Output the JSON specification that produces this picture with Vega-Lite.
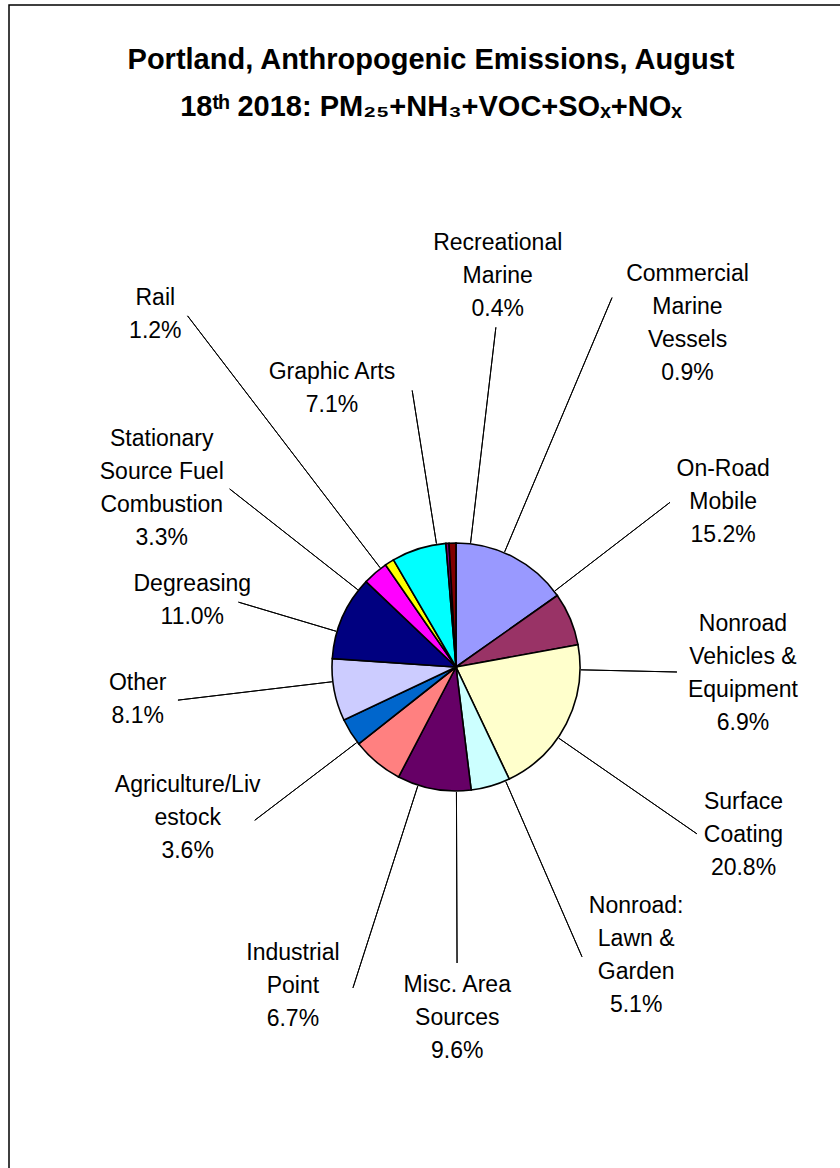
{
  "$schema": "https://vega.github.io/schema/vega-lite/v6.json",
  "autosize": "none",
  "padding": {"left": 9, "top": 5, "right": 0, "bottom": 0},
  "width": 894,
  "height": 1324,
  "background": "white",
  "view": {"stroke": "black", "strokeWidth": 1.5, "fill": "white"},
  "config": {
    "view": {"stroke": "black", "strokeWidth": 1.5},
    "text": {"font": "Liberation Sans", "fontSize": 23, "lineHeight": 33, "lineBreak": "\n", "align": "center", "baseline": "middle", "color": "black"}
  },
  "title": {
    "text": ["Portland, Anthropogenic Emissions, August", "18ᵗʰ 2018: PM₂₅+NH₃+VOC+SOₓ+NOₓ"],
    "font": "Liberation Sans",
    "fontSize": 29,
    "fontWeight": "bold",
    "lineHeight": 47,
    "anchor": "middle",
    "color": "black",
    "offset": 0,
    "dx": -25,
    "dy": 117
  },
  "data": {
    "values": [
      {"order": 1, "cat": "On-Road Mobile", "label": "On-Road\nMobile\n15.2%", "pct": 15.2},
      {"order": 2, "cat": "Nonroad Vehicles & Equipment", "label": "Nonroad\nVehicles &\nEquipment\n6.9%", "pct": 6.9},
      {"order": 3, "cat": "Surface Coating", "label": "Surface\nCoating\n20.8%", "pct": 20.8},
      {"order": 4, "cat": "Nonroad: Lawn & Garden", "label": "Nonroad:\nLawn &\nGarden\n5.1%", "pct": 5.1},
      {"order": 5, "cat": "Misc. Area Sources", "label": "Misc. Area\nSources\n9.6%", "pct": 9.6},
      {"order": 6, "cat": "Industrial Point", "label": "Industrial\nPoint\n6.7%", "pct": 6.7},
      {"order": 7, "cat": "Agriculture/Livestock", "label": "Agriculture/Liv\nestock\n3.6%", "pct": 3.6},
      {"order": 8, "cat": "Other", "label": "Other\n8.1%", "pct": 8.1},
      {"order": 9, "cat": "Degreasing", "label": "Degreasing\n11.0%", "pct": 11.0},
      {"order": 10, "cat": "Stationary Source Fuel Combustion", "label": "Stationary\nSource Fuel\nCombustion\n3.3%", "pct": 3.3},
      {"order": 11, "cat": "Rail", "label": "Rail\n1.2%", "pct": 1.2},
      {"order": 12, "cat": "Graphic Arts", "label": "Graphic Arts\n7.1%", "pct": 7.1},
      {"order": 13, "cat": "Recreational Marine", "label": "Recreational\nMarine\n0.4%", "pct": 0.4},
      {"order": 14, "cat": "Commercial Marine Vessels", "label": "Commercial\nMarine\nVessels\n0.9%", "pct": 0.9}
    ]
  },
  "transform": [
    {"window": [{"op": "sum", "field": "pct", "as": "cum"}], "sort": [{"field": "order"}]}
  ],
  "layer": [
    {
      "mark": {"type": "arc", "radius": 124, "stroke": "black", "strokeWidth": 1.6},
      "encoding": {
        "theta": {"field": "pct", "type": "quantitative", "stack": true},
        "order": {"field": "order", "type": "quantitative"},
        "color": {
          "field": "cat", "type": "nominal", "legend": null,
          "scale": {
            "domain": ["On-Road Mobile", "Nonroad Vehicles & Equipment", "Surface Coating", "Nonroad: Lawn & Garden", "Misc. Area Sources", "Industrial Point", "Agriculture/Livestock", "Other", "Degreasing", "Stationary Source Fuel Combustion", "Rail", "Graphic Arts", "Recreational Marine", "Commercial Marine Vessels"],
            "range": ["#9999FF", "#993366", "#FFFFCC", "#CCFFFF", "#660066", "#FF8080", "#0066CC", "#CCCCFF", "#000080", "#FF00FF", "#FFFF00", "#00FFFF", "#800080", "#800000"]
          }
        }
      }
    },
    {"transform": [{"filter": "datum.order === 1"}], "layer": [
      {"mark": {"type": "arc", "radius": 270, "radius2": 125, "thetaOffset": -0.041, "theta2Offset": -0.041, "stroke": "black", "strokeWidth": 1, "fillOpacity": 0}, "encoding": {"theta": {"field": "cum", "type": "quantitative", "stack": null}, "theta2": {"field": "cum"}}},
      {"mark": {"type": "text", "radius": 314, "thetaOffset": 0.0616, "dy": -33}, "encoding": {"theta": {"field": "cum", "type": "quantitative", "stack": null}, "text": {"field": "label"}}}
    ]},
    {"transform": [{"filter": "datum.order === 2"}], "layer": [
      {"mark": {"type": "arc", "radius": 221, "radius2": 125, "thetaOffset": 0.2035, "theta2Offset": 0.2035, "stroke": "black", "strokeWidth": 1, "fillOpacity": 0}, "encoding": {"theta": {"field": "cum", "type": "quantitative", "stack": null}, "theta2": {"field": "cum"}}},
      {"mark": {"type": "text", "radius": 287, "thetaOffset": 0.2018, "dy": -49.5}, "encoding": {"theta": {"field": "cum", "type": "quantitative", "stack": null}, "text": {"field": "label"}}}
    ]},
    {"transform": [{"filter": "datum.order === 3"}], "layer": [
      {"mark": {"type": "arc", "radius": 293, "radius2": 125, "thetaOffset": -0.5217, "theta2Offset": -0.5217, "stroke": "black", "strokeWidth": 1, "fillOpacity": 0}, "encoding": {"theta": {"field": "cum", "type": "quantitative", "stack": null}, "theta2": {"field": "cum"}}},
      {"mark": {"type": "text", "radius": 333, "thetaOffset": -0.5985, "dy": -33}, "encoding": {"theta": {"field": "cum", "type": "quantitative", "stack": null}, "text": {"field": "label"}}}
    ]},
    {"transform": [{"filter": "datum.order === 4"}], "layer": [
      {"mark": {"type": "arc", "radius": 316, "radius2": 125, "thetaOffset": -0.2875, "theta2Offset": -0.2875, "stroke": "black", "strokeWidth": 1, "fillOpacity": 0}, "encoding": {"theta": {"field": "cum", "type": "quantitative", "stack": null}, "theta2": {"field": "cum"}}},
      {"mark": {"type": "text", "radius": 340, "thetaOffset": -0.4358, "dy": -49.5}, "encoding": {"theta": {"field": "cum", "type": "quantitative", "stack": null}, "text": {"field": "label"}}}
    ]},
    {"transform": [{"filter": "datum.order === 5"}], "layer": [
      {"mark": {"type": "arc", "radius": 296, "radius2": 125, "thetaOffset": -0.4847, "theta2Offset": -0.4847, "stroke": "black", "strokeWidth": 1, "fillOpacity": 0}, "encoding": {"theta": {"field": "cum", "type": "quantitative", "stack": null}, "theta2": {"field": "cum"}}},
      {"mark": {"type": "text", "radius": 351, "thetaOffset": -0.4847, "dy": -33}, "encoding": {"theta": {"field": "cum", "type": "quantitative", "stack": null}, "text": {"field": "label"}}}
    ]},
    {"transform": [{"filter": "datum.order === 6"}], "layer": [
      {"mark": {"type": "arc", "radius": 337, "radius2": 125, "thetaOffset": -0.5918, "theta2Offset": -0.5918, "stroke": "black", "strokeWidth": 1, "fillOpacity": 0}, "encoding": {"theta": {"field": "cum", "type": "quantitative", "stack": null}, "theta2": {"field": "cum"}}},
      {"mark": {"type": "text", "radius": 358, "thetaOffset": -0.4295, "dy": -33}, "encoding": {"theta": {"field": "cum", "type": "quantitative", "stack": null}, "text": {"field": "label"}}}
    ]},
    {"transform": [{"filter": "datum.order === 7"}], "layer": [
      {"mark": {"type": "arc", "radius": 253, "radius2": 125, "thetaOffset": -0.2091, "theta2Offset": -0.2091, "stroke": "black", "strokeWidth": 1, "fillOpacity": 0}, "encoding": {"theta": {"field": "cum", "type": "quantitative", "stack": null}, "theta2": {"field": "cum"}}},
      {"mark": {"type": "text", "radius": 308, "thetaOffset": -0.0712, "dy": -33}, "encoding": {"theta": {"field": "cum", "type": "quantitative", "stack": null}, "text": {"field": "label"}}}
    ]},
    {"transform": [{"filter": "datum.order === 8"}], "layer": [
      {"mark": {"type": "arc", "radius": 280, "radius2": 125, "thetaOffset": -0.1862, "theta2Offset": -0.1862, "stroke": "black", "strokeWidth": 1, "fillOpacity": 0}, "encoding": {"theta": {"field": "cum", "type": "quantitative", "stack": null}, "theta2": {"field": "cum"}}},
      {"mark": {"type": "text", "radius": 320, "thetaOffset": -0.1705, "dy": -16.5}, "encoding": {"theta": {"field": "cum", "type": "quantitative", "stack": null}, "text": {"field": "label"}}}
    ]},
    {"transform": [{"filter": "datum.order === 9"}], "layer": [
      {"mark": {"type": "arc", "radius": 227, "radius2": 125, "thetaOffset": -0.4697, "theta2Offset": -0.4697, "stroke": "black", "strokeWidth": 1, "fillOpacity": 0}, "encoding": {"theta": {"field": "cum", "type": "quantitative", "stack": null}, "theta2": {"field": "cum"}}},
      {"mark": {"type": "text", "radius": 272, "thetaOffset": -0.5116, "dy": -16.5}, "encoding": {"theta": {"field": "cum", "type": "quantitative", "stack": null}, "text": {"field": "label"}}}
    ]},
    {"transform": [{"filter": "datum.order === 10"}], "layer": [
      {"mark": {"type": "arc", "radius": 288, "radius2": 125, "thetaOffset": -0.3004, "theta2Offset": -0.3004, "stroke": "black", "strokeWidth": 1, "fillOpacity": 0}, "encoding": {"theta": {"field": "cum", "type": "quantitative", "stack": null}, "theta2": {"field": "cum"}}},
      {"mark": {"type": "text", "radius": 344, "thetaOffset": -0.4225, "dy": -49.5}, "encoding": {"theta": {"field": "cum", "type": "quantitative", "stack": null}, "text": {"field": "label"}}}
    ]},
    {"transform": [{"filter": "datum.order === 11"}], "layer": [
      {"mark": {"type": "arc", "radius": 442, "radius2": 125, "thetaOffset": -0.1244, "theta2Offset": -0.1244, "stroke": "black", "strokeWidth": 1, "fillOpacity": 0}, "encoding": {"theta": {"field": "cum", "type": "quantitative", "stack": null}, "theta2": {"field": "cum"}}},
      {"mark": {"type": "text", "radius": 463, "thetaOffset": -0.1785, "dy": -16.5}, "encoding": {"theta": {"field": "cum", "type": "quantitative", "stack": null}, "text": {"field": "label"}}}
    ]},
    {"transform": [{"filter": "datum.order === 12"}], "layer": [
      {"mark": {"type": "arc", "radius": 280, "radius2": 125, "thetaOffset": -0.0754, "theta2Offset": -0.0754, "stroke": "black", "strokeWidth": 1, "fillOpacity": 0}, "encoding": {"theta": {"field": "cum", "type": "quantitative", "stack": null}, "theta2": {"field": "cum"}}},
      {"mark": {"type": "text", "radius": 305, "thetaOffset": -0.3372, "dy": -16.5}, "encoding": {"theta": {"field": "cum", "type": "quantitative", "stack": null}, "text": {"field": "label"}}}
    ]},
    {"transform": [{"filter": "datum.order === 13"}], "layer": [
      {"mark": {"type": "arc", "radius": 342, "radius2": 125, "thetaOffset": 0.1735, "theta2Offset": 0.1735, "stroke": "black", "strokeWidth": 1, "fillOpacity": 0}, "encoding": {"theta": {"field": "cum", "type": "quantitative", "stack": null}, "theta2": {"field": "cum"}}},
      {"mark": {"type": "text", "radius": 393, "thetaOffset": 0.1630, "dy": -33}, "encoding": {"theta": {"field": "cum", "type": "quantitative", "stack": null}, "text": {"field": "label"}}}
    ]},
    {"transform": [{"filter": "datum.order === 14"}], "layer": [
      {"mark": {"type": "arc", "radius": 401, "radius2": 125, "thetaOffset": 0.3997, "theta2Offset": 0.3997, "stroke": "black", "strokeWidth": 1, "fillOpacity": 0}, "encoding": {"theta": {"field": "cum", "type": "quantitative", "stack": null}, "theta2": {"field": "cum"}}},
      {"mark": {"type": "text", "radius": 414, "thetaOffset": 0.5934, "dy": -49.5}, "encoding": {"theta": {"field": "cum", "type": "quantitative", "stack": null}, "text": {"field": "label"}}}
    ]}
  ]
}
